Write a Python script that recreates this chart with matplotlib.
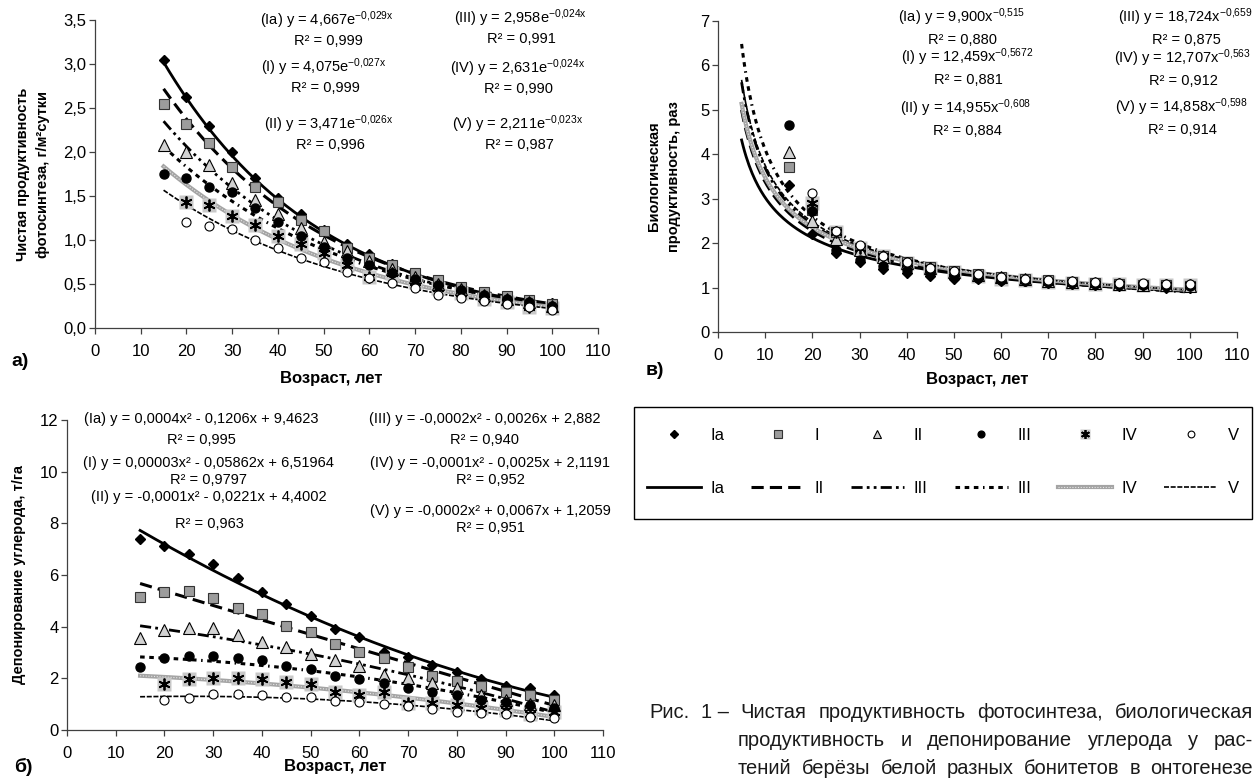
import matplotlib
matplotlib.use("Agg")
import matplotlib.pyplot as plt
import numpy as np
from matplotlib import font_manager
from matplotlib.lines import Line2D
from matplotlib.patches import Rectangle
from matplotlib.legend_handler import HandlerTuple
from matplotlib.ticker import FuncFormatter, MultipleLocator

plt.rcParams['font.family'] = ['Liberation Sans', 'DejaVu Sans']
plt.rcParams['mathtext.fontset'] = 'custom'
plt.rcParams['mathtext.rm'] = 'Liberation Sans'
plt.rcParams['mathtext.it'] = 'Liberation Sans:italic'
plt.rcParams['mathtext.bf'] = 'Liberation Sans:bold'

# ---------------- data ----------------
classes = ['Ia', 'I', 'II', 'III', 'IV', 'V']
line_labels = ['Ia', 'II', 'III', 'III', 'IV', 'V']   # as printed in the legend
age = [15, 20, 25, 30, 35, 40, 45, 50, 55, 60, 65, 70, 75, 80, 85, 90, 95, 100]
nan = np.nan

# а) net photosynthesis productivity, g/m2 per day
npp = {
    'Ia':  [3.05, 2.62, 2.29, 2.00, 1.71, 1.48, 1.29, 1.11, 0.96, 0.84, 0.73, 0.63, 0.55, 0.47, 0.41, 0.36, 0.31, 0.28],
    'I':   [2.55, 2.32, 2.10, 1.83, 1.60, 1.43, 1.23, 1.10, 0.91, 0.80, 0.72, 0.62, 0.54, 0.47, 0.41, 0.36, 0.32, 0.27],
    'II':  [2.08, 2.00, 1.85, 1.65, 1.45, 1.30, 1.14, 0.98, 0.87, 0.76, 0.67, 0.58, 0.50, 0.44, 0.38, 0.33, 0.29, 0.25],
    'III': [1.75, 1.71, 1.60, 1.54, 1.36, 1.20, 1.05, 0.92, 0.80, 0.72, 0.63, 0.56, 0.49, 0.43, 0.37, 0.33, 0.29, 0.25],
    'IV':  [nan, 1.43, 1.40, 1.27, 1.17, 1.05, 0.95, 0.85, 0.72, 0.58, 0.62, 0.52, 0.46, 0.40, 0.33, 0.30, 0.24, 0.23],
    'V':   [nan, 1.21, 1.16, 1.12, 1.00, 0.91, 0.79, 0.75, 0.64, 0.57, 0.51, 0.46, 0.38, 0.34, 0.31, 0.27, 0.24, 0.20],
}
npp_k = [4.667, 4.075, 3.471, 2.958, 2.631, 2.211]
npp_r = [0.029, 0.027, 0.026, 0.024, 0.024, 0.023]
npp_eq = ['4,667e', '4,075e', '3,471e', '2,958e', '2,631e', '2,211e']
npp_exp = ['-0,029x', '-0,027x', '-0,026x', '-0,024x', '-0,024x', '-0,023x']
npp_r2 = ['0,999', '0,999', '0,996', '0,991', '0,990', '0,987']

# в) biological productivity, times
bio = {
    'Ia':  [3.30, 2.20, 1.78, 1.57, 1.42, 1.33, 1.25, 1.20, 1.19, 1.15, 1.14, 1.11, 1.09, 1.06, 1.04, 1.03, 1.00, 1.00],
    'I':   [3.72, 2.75, 2.25, 1.90, 1.70, 1.58, 1.47, 1.38, 1.30, 1.24, 1.20, 1.16, 1.13, 1.10, 1.08, 1.06, 1.05, 1.04],
    'II':  [4.05, 2.50, 2.10, 1.85, 1.68, 1.55, 1.45, 1.36, 1.29, 1.23, 1.19, 1.15, 1.12, 1.10, 1.08, 1.06, 1.05, 1.04],
    'III': [4.65, 2.72, 1.85, 1.62, 1.48, 1.40, 1.33, 1.27, 1.22, 1.18, 1.15, 1.12, 1.10, 1.08, 1.06, 1.05, 1.04, 1.03],
    'IV':  [nan, 2.90, 2.25, 1.90, 1.70, 1.55, 1.45, 1.35, 1.27, 1.20, 1.16, 1.13, 1.11, 1.09, 1.07, 1.06, 1.05, 1.05],
    'V':   [nan, 3.12, 2.27, 1.95, 1.72, 1.57, 1.45, 1.37, 1.30, 1.24, 1.19, 1.16, 1.14, 1.13, 1.11, 1.10, 1.08, 1.08],
}
bio_k = [9.900, 12.459, 14.955, 18.724, 12.707, 14.858]
bio_p = [0.515, 0.5672, 0.608, 0.659, 0.563, 0.598]
bio_eq = ['9,900x', '12,459x', '14,955x', '18,724x', '12,707x', '14,858x']
bio_exp = ['-0,515', '-0,5672', '-0,608', '-0,659', '-0,563', '-0,598']
bio_r2 = ['0,880', '0,881', '0,884', '0,875', '0,912', '0,914']

# б) carbon deposition, t/ha
carb = {
    'Ia':  [7.38, 7.14, 6.83, 6.43, 5.87, 5.35, 4.86, 4.40, 3.90, 3.59, 3.03, 2.81, 2.52, 2.23, 1.97, 1.72, 1.61, 1.35],
    'I':   [5.14, 5.34, 5.38, 5.10, 4.74, 4.48, 4.03, 3.78, 3.33, 3.02, 2.77, 2.43, 2.10, 1.91, 1.70, 1.48, 1.35, 1.16],
    'II':  [3.55, 3.87, 3.94, 3.94, 3.68, 3.42, 3.23, 2.94, 2.71, 2.48, 2.13, 2.03, 1.81, 1.61, 1.35, 1.16, 1.00, 0.95],
    'III': [2.43, 2.77, 2.86, 2.86, 2.77, 2.71, 2.49, 2.36, 2.09, 1.97, 1.81, 1.61, 1.48, 1.35, 1.16, 1.10, 0.97, 0.84],
    'IV':  [nan, 1.78, 1.97, 2.03, 2.03, 1.96, 1.85, 1.77, 1.48, 1.35, 1.46, 1.03, 1.03, 0.97, 0.84, 0.77, 0.62, 0.71],
    'V':   [nan, 1.16, 1.25, 1.39, 1.39, 1.35, 1.26, 1.26, 1.14, 1.10, 1.00, 0.93, 0.80, 0.71, 0.65, 0.62, 0.49, 0.45],
}
carb_eq = ['0,0004x² - 0,1206x + 9,4623', '0,00003x² - 0,05862x + 6,51964',
           '-0,0001x² - 0,0221x + 4,4002', '-0,0002x² - 0,0026x + 2,882',
           '-0,0001x² - 0,0025x + 2,1191', '-0,0002x² + 0,0067x + 1,2059']
carb_r2 = ['0,995', '0,9797', '0,963', '0,940', '0,952', '0,951']

# ---------------- styles ----------------
W, H = 1259, 782
fig = plt.figure(figsize=(W / 100, H / 100), dpi=100)

mk = {
    'Ia':  dict(marker='D', ms=5.5, mfc='black', mec='black'),
    'I':   dict(marker='s', ms=7, mfc='#9c9c9c', mec='#333333', mew=0.8),
    'II':  dict(marker='^', ms=8, mfc='#d2d2d2', mec='black', mew=0.8),
    'III': dict(marker='o', ms=6.5, mfc='black', mec='black'),
    'IV':  dict(marker=(6, 2, 0), ms=8.5, mfc='black', mec='black', mew=1.3),
    'V':   dict(marker='o', ms=6.5, mfc='white', mec='black', mew=0.8),
}
iv_bg = dict(marker='s', ms=10.5, mfc='#c8c8c8', mec='none')
ls = {
    'Ia':  dict(color='black', lw=2.0, ls='-'),
    'I':   dict(color='black', lw=2.2, ls=(0, (4, 2))),
    'II':  dict(color='black', lw=2.0, ls=(0, (4, 1.5, 1, 1.5, 1, 1.5))),
    'III': dict(color='black', lw=2.2, ls=(0, (1.5, 1.5, 1.5, 1.5, 1.5, 1.5, 0.5, 1.5))),
    'IV':  dict(color='#a4a4a4', lw=3.0, ls='-'),
    'V':   dict(color='black', lw=1.2, ls=(0, (3, 1))),
}
iv_top = dict(color='#e6e6e6', lw=0.8, ls=(0, (1, 1.5)))


def px(x, y):
    return x / W, 1 - y / H


def sup(s):
    return r"$^{\mathregular{" + s.replace(",", "{,}") + "}}$"


def style_axes(ax, xmax, ymax, ystep, fmt=None):
    ax.set_xlim(0, xmax)
    ax.set_ylim(0, ymax)
    ax.xaxis.set_major_locator(MultipleLocator(10))
    ax.yaxis.set_major_locator(MultipleLocator(ystep))
    if fmt:
        ax.yaxis.set_major_formatter(FuncFormatter(fmt))
    for s in ['top', 'right']:
        ax.spines[s].set_visible(False)
    for s in ['left', 'bottom']:
        ax.spines[s].set_color('#404040')
        ax.spines[s].set_linewidth(0.9)
    ax.tick_params(axis='both', direction='out', length=4.5, width=0.9,
                   color='#404040', labelsize=12)
    ax.tick_params(axis='x', pad=7)
    ax.tick_params(axis='y', pad=1.5)
    ax.set_xlabel('Возраст, лет', fontweight='bold', fontsize=12)


def draw_points(ax, ys):
    for c in classes:
        if c == 'IV':
            ax.plot(age, ys[c], ls='none', zorder=3, **iv_bg)
        ax.plot(age, ys[c], ls='none', zorder=4, **mk[c])


def draw_trend(ax, xs, ys_by_class):
    for c in classes:
        ax.plot(xs, ys_by_class[c], zorder=2, **ls[c])
        if c == 'IV':
            ax.plot(xs, ys_by_class[c], zorder=2.5, **iv_top)


# ---------------- а) ----------------
ax_a = fig.add_axes([95 / W, 1 - 328 / H, 503 / W, 308 / H])
style_axes(ax_a, 110, 3.5, 0.5, lambda v, p: f"{v:.1f}".replace('.', ','))
xa = np.linspace(15, 100, 200)
trend_a = {c: npp_k[i] * np.exp(-npp_r[i] * xa) for i, c in enumerate(classes)}
draw_trend(ax_a, xa, trend_a)
draw_points(ax_a, npp)
ax_a.set_ylabel('Чистая продуктивность\nфотосинтеза, г/м²сутки', fontweight='bold',
                fontsize=10.5, linespacing=1.6)
ax_a.yaxis.set_label_coords(-0.089, 0.5)
ax_a.xaxis.set_label_coords(0.47, -0.14)

eq_pos_a = [(327, 20), (324, 67), (329, 124), (520, 18), (518, 68), (518, 124)]
for i, c in enumerate(classes):
    x, y = eq_pos_a[i]
    fig.text(*px(x, y), f"({c}) y = {npp_eq[i]}" + sup(npp_exp[i]), ha='center', va='center', fontsize=10.5)
    fig.text(*px(x + 1, y + 21), f"R² = {npp_r2[i]}", ha='center', va='center', fontsize=10.5)

# ---------------- в) ----------------
ax_v = fig.add_axes([718 / W, 1 - 332 / H, 519 / W, 311 / H])
style_axes(ax_v, 110, 7, 1)
xv = np.linspace(5, 100, 300)
trend_v = {c: bio_k[i] * xv ** (-bio_p[i]) for i, c in enumerate(classes)}
draw_trend(ax_v, xv, trend_v)
draw_points(ax_v, bio)
ax_v.set_ylabel('Биологическая\nпродуктивность, раз', fontweight='bold',
                fontsize=10.5, linespacing=1.6)
ax_v.yaxis.set_label_coords(-0.071, 0.5)
ax_v.xaxis.set_label_coords(0.5, -0.13)

eq_pos_v = [(962, 17), (967, 57), (966, 108), (1185, 17), (1182, 58), (1181, 107)]
for i, c in enumerate(classes):
    x, y = eq_pos_v[i]
    fig.text(*px(x, y), f"({c}) y = {bio_eq[i]}" + sup(bio_exp[i]), ha='center', va='center', fontsize=10.5)
    fig.text(*px(x + 1, y + 23), f"R² = {bio_r2[i]}", ha='center', va='center', fontsize=10.5)

# ---------------- б) ----------------
ax_b = fig.add_axes([67 / W, 1 - 730 / H, 536 / W, 310 / H])
style_axes(ax_b, 110, 12, 2)
xb = np.linspace(15, 100, 200)
trend_b = {}
for c in classes:
    xx = np.array(age, dtype=float)
    yy = np.array(carb[c], dtype=float)
    ok = ~np.isnan(yy)
    trend_b[c] = np.polyval(np.polyfit(xx[ok], yy[ok], 2), xb)
draw_trend(ax_b, xb, trend_b)
draw_points(ax_b, carb)
ax_b.set_ylabel('Депонирование углерода, т/га', fontweight='bold', fontsize=10.5)
ax_b.yaxis.set_label_coords(-0.076, 0.5)
ax_b.xaxis.set_label_coords(0.5, -0.095)

eq_pos_b = [(201, 419, 440), (208, 463, 480), (209, 497, 524),
            (485, 419, 440), (490, 463, 480), (490, 511, 528)]
for i, c in enumerate(classes):
    x, y1, y2 = eq_pos_b[i]
    fig.text(*px(x, y1), f"({c}) y = {carb_eq[i]}", ha='center', va='center', fontsize=10.5)
    fig.text(*px(x, y2), f"R² = {carb_r2[i]}", ha='center', va='center', fontsize=10.5)

# panel letters
fig.text(*px(20, 362), 'а)', fontweight='bold', fontsize=14, ha='center', va='center')
fig.text(*px(655, 370), 'в)', fontweight='bold', fontsize=14, ha='center', va='center')
fig.text(*px(23, 767), 'б)', fontweight='bold', fontsize=14, ha='center', va='center')

# ---------------- legend ----------------
handles, labels = [], []
for i, c in enumerate(classes):
    if c == 'IV':
        hm = (Line2D([], [], ls='none', **iv_bg), Line2D([], [], ls='none', **mk[c]))
        hl = (Line2D([], [], **ls[c]), Line2D([], [], **iv_top))
    else:
        hm = Line2D([], [], ls='none', **mk[c])
        hl = Line2D([], [], **ls[c])
    handles += [hm, hl]
    labels += [c, line_labels[i]]

fig.legend(handles, labels, ncol=6, loc='center', bbox_to_anchor=px(943, 462),
           frameon=False, fontsize=12, handlelength=3.2, handletextpad=0.6,
           columnspacing=1.6, labelspacing=2.3, markerscale=0.75,
           handler_map={tuple: HandlerTuple(ndivide=1, pad=0)})
fig.patches.append(Rectangle(px(634, 519), 618 / W, 112 / H, transform=fig.transFigure,
                             fill=False, ec='black', lw=1.0))

# ---------------- caption ----------------
names = {f.name for f in font_manager.fontManager.ttflist}
cap_font = 'Liberation Sans Narrow' if 'Liberation Sans Narrow' in names else 'Liberation Sans'
cap_kw = dict(fontsize=14.5, family=cap_font, va='center', ha='left', color='#1a1a1a')

caption = [
    (649, 713, ['Рис.', '1 –', 'Чистая', 'продуктивность', 'фотосинтеза,', 'биологическая']),
    (738, 740, ['продуктивность', 'и', 'депонирование', 'углерода', 'у', 'рас-']),
    (738, 768, ['тений', 'берёзы', 'белой', 'разных', 'бонитетов', 'в', 'онтогенезе']),
]
renderer = fig.canvas.get_renderer()
for x0, y, words in caption:
    txts = [fig.text(*px(x0, y), w, **cap_kw) for w in words]
    widths = [t.get_window_extent(renderer).width for t in txts]
    gap = max(4.0, (1253 - x0 - sum(widths)) / (len(words) - 1))
    x = x0
    for t, w in zip(txts, widths):
        t.set_x(x / W)
        x += w + gap

fig.savefig('out.png', dpi=100)
